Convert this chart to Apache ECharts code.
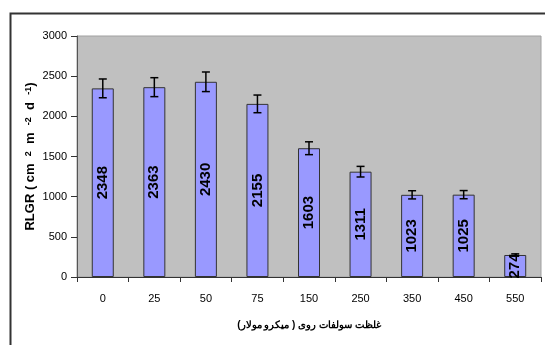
<!DOCTYPE html>
<html>
<head>
<meta charset="utf-8">
<script src="https://cdn.jsdelivr.net/npm/echarts@6/dist/echarts.min.js"></script>
<style>html,body{margin:0;padding:0;background:#fff;}#c{width:545px;height:345px;}</style>
</head>
<body>
<div id="c"></div>
<script>
var categories = ['0','25','50','75','150','250','350','450','550'];
var values = [2348, 2363, 2430, 2155, 1603, 1311, 1023, 1025, 274];
var errors = [117, 118, 122, 110, 80, 66, 51, 51, 14];
var yTicks = [0, 500, 1000, 1500, 2000, 2500, 3000];
var xName = 'غلظت سولفات روی ( میکرو مولار)';

var chart = echarts.init(document.getElementById('c'), null, {renderer: 'canvas'});
var font = 'Liberation Sans, Arial, sans-serif';
var errData = values.map(function (v, i) { return [i, v - errors[i], v + errors[i]]; });

chart.setOption({
  animation: false,
  backgroundColor: '#fff',
  graphic: [{
    type: 'rect', left: 8, top: 11, z: -10,
    shape: {width: 560, height: 360},
    style: {fill: 'none', stroke: '#333', lineWidth: 2}
  }],
  grid: {
    left: 77, right: 4, top: 36, bottom: 68,
    show: true, backgroundColor: '#c0c0c0', borderColor: '#a0a0a0', borderWidth: 1
  },
  xAxis: {
    type: 'category', data: categories,
    name: xName, nameLocation: 'middle', nameGap: 43,
    nameTextStyle: {fontFamily: font, fontSize: 10, fontWeight: 'bold', color: '#000'},
    axisLine: {lineStyle: {color: '#333', width: 1}},
    axisTick: {show: true, length: 5, lineStyle: {color: '#333'}},
    axisLabel: {fontFamily: font, fontSize: 11, color: '#000', margin: 16}
  },
  yAxis: {
    type: 'value', min: 0, max: 3000, interval: 500,
    name: 'RLGR ( cm  {sup|2}  m  {sup|-2}  d  {sup|-1})',
    nameLocation: 'middle', nameGap: 40, nameMoveOverlap: false,
    nameTextStyle: {
      fontFamily: font, fontSize: 13, fontWeight: 'bold', color: '#000',
      rich: {sup: {fontFamily: font, fontSize: 9, fontWeight: 'bold', color: '#000', verticalAlign: 'top', lineHeight: 9}}
    },
    axisLine: {show: true, lineStyle: {color: '#555', width: 1}},
    axisTick: {show: true, length: 6, lineStyle: {color: '#333'}},
    axisLabel: {fontFamily: font, fontSize: 11, color: '#000', margin: 10,
      formatter: function (v) { return yTicks.indexOf(v) >= 0 ? String(v) : ''; }},
    splitLine: {show: false}
  },
  series: [{
    type: 'bar', data: values, barWidth: 22,
    itemStyle: {color: '#9999ff', borderColor: '#333', borderWidth: 1},
    label: {
      show: true, position: 'inside', rotate: 90,
      fontFamily: font, fontSize: 15, fontWeight: 'bold', color: '#000'
    },
    z: 2
  }, {
    type: 'custom', data: errData, z: 5,
    renderItem: function (params, api) {
      var x = api.value(0);
      var lo = api.coord([x, api.value(1)]);
      var hi = api.coord([x, api.value(2)]);
      var w = 4;
      var st = {stroke: '#000', lineWidth: 1.5};
      return {type: 'group', children: [
        {type: 'line', shape: {x1: lo[0], y1: lo[1], x2: hi[0], y2: hi[1]}, style: st},
        {type: 'line', shape: {x1: lo[0]-w, y1: lo[1], x2: lo[0]+w, y2: lo[1]}, style: st},
        {type: 'line', shape: {x1: hi[0]-w, y1: hi[1], x2: hi[0]+w, y2: hi[1]}, style: st}
      ]};
    }
  }]
});
</script>
</body>
</html>
